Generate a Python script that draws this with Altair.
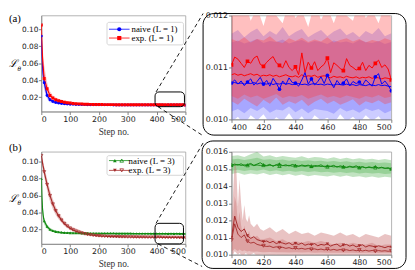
import altair as alt
import pandas as pd

# ---------------- data ----------------
LSTEPS = [0, 2, 4, 6, 8] + list(range(10, 501, 10))
LA_NAIVE = [0.092, 0.070, 0.057, 0.048, 0.042,
            0.037, 0.022, 0.017, 0.0148, 0.0138, 0.0130, 0.0125, 0.0121, 0.0118, 0.0116,
            0.0115, 0.0114, 0.0113, 0.0112, 0.0112, 0.0111, 0.0111, 0.0110, 0.0110, 0.0110,
            0.0109, 0.0109, 0.0109, 0.0109, 0.0108, 0.0108, 0.0108, 0.0108, 0.0108, 0.0108,
            0.0107, 0.0108, 0.0107, 0.0107, 0.0107, 0.0107, 0.0107, 0.0107, 0.0107, 0.0107,
            0.01072, 0.01068, 0.01058, 0.0107, 0.01078, 0.01085, 0.0107, 0.01072, 0.01082, 0.01055]
LA_EXP = [0.105, 0.082, 0.067, 0.057, 0.049,
          0.042, 0.030, 0.022, 0.019, 0.017, 0.0158, 0.0148, 0.0141, 0.0135, 0.0130,
          0.0126, 0.0123, 0.0121, 0.0119, 0.0117, 0.0116, 0.0115, 0.0114, 0.0114, 0.0113,
          0.0113, 0.0112, 0.0112, 0.0112, 0.0112, 0.0111, 0.0111, 0.0111, 0.0111, 0.0111,
          0.0111, 0.0111, 0.0111, 0.0110, 0.0111, 0.0110, 0.0111, 0.0110, 0.0111, 0.01105,
          0.01112, 0.01102, 0.01104, 0.01101, 0.01099, 0.01118, 0.01094, 0.01098, 0.01108, 0.01076]
LB_NAIVE = [0.080, 0.058, 0.045, 0.038, 0.033,
            0.030, 0.0235, 0.0200, 0.0185, 0.0175, 0.0170, 0.0166, 0.0163, 0.0161, 0.0160,
            0.0159, 0.0158, 0.0158, 0.0157, 0.0157, 0.0157, 0.0156, 0.0156, 0.0156, 0.0156,
            0.0155, 0.0155, 0.0155, 0.0155, 0.0155, 0.0154, 0.0154, 0.0154, 0.0154, 0.0154,
            0.0154, 0.0153, 0.0153, 0.0153, 0.0153, 0.0153, 0.0153, 0.0152, 0.0152, 0.0152,
            0.01525, 0.01521, 0.01519, 0.01515, 0.01519, 0.01513, 0.01518, 0.01514, 0.01505, 0.0150]
LB_EXP = [0.107, 0.103, 0.099, 0.095, 0.092,
          0.088, 0.073, 0.060, 0.050, 0.042, 0.036, 0.031, 0.027, 0.024, 0.0215,
          0.0195, 0.0180, 0.0168, 0.0158, 0.0150, 0.0143, 0.0137, 0.0132, 0.0128, 0.0125,
          0.0122, 0.0120, 0.0118, 0.0117, 0.0116, 0.0115, 0.0114, 0.0113, 0.0113, 0.0112,
          0.0112, 0.0111, 0.0111, 0.0110, 0.0110, 0.0110, 0.0109, 0.0109, 0.0109, 0.0110,
          0.0110, 0.01075, 0.01072, 0.01066, 0.01058, 0.01063, 0.01056, 0.01052, 0.01044, 0.01044]

BSTEPS_L = [0, 2, 4, 6, 8, 10, 15, 20, 25, 30, 40, 50, 60, 80, 100, 150, 200, 300, 400, 500]
LA_RED_HI = [0.108, 0.095, 0.082, 0.072, 0.064, 0.058, 0.047, 0.038, 0.031, 0.027, 0.022, 0.0195, 0.018, 0.016, 0.0148, 0.013, 0.0125, 0.0120, 0.0121, 0.0121]
LA_RED_LO = [0.102, 0.072, 0.055, 0.045, 0.038, 0.032, 0.025, 0.021, 0.0185, 0.0165, 0.0148, 0.0138, 0.0130, 0.0120, 0.0115, 0.0108, 0.0106, 0.0104, 0.0103, 0.0103]
LA_BLUE_HI = [0.100, 0.082, 0.067, 0.057, 0.050, 0.045, 0.034, 0.027, 0.022, 0.019, 0.0165, 0.0153, 0.0145, 0.0135, 0.0130, 0.0122, 0.0120, 0.0118, 0.0116, 0.0116]
LA_BLUE_LO = [0.085, 0.060, 0.046, 0.038, 0.033, 0.029, 0.022, 0.018, 0.0155, 0.014, 0.0128, 0.012, 0.0115, 0.011, 0.0106, 0.0102, 0.0100, 0.0099, 0.0099, 0.0099]
LB_GREEN_HI = [0.085, 0.065, 0.051, 0.043, 0.037, 0.034, 0.029, 0.026, 0.024, 0.022, 0.020, 0.019, 0.018, 0.0172, 0.0168, 0.0162, 0.0160, 0.0158, 0.0157, 0.0155]
LB_GREEN_LO = [0.075, 0.051, 0.040, 0.034, 0.029, 0.026, 0.023, 0.021, 0.0195, 0.018, 0.017, 0.016, 0.0158, 0.0155, 0.0153, 0.0150, 0.0149, 0.0148, 0.0147, 0.0146]
LB_BROWN_HI = [0.110, 0.107, 0.104, 0.101, 0.097, 0.094, 0.087, 0.080, 0.073, 0.067, 0.056, 0.047, 0.040, 0.030, 0.024, 0.017, 0.0135, 0.0118, 0.0115, 0.0111]
LB_BROWN_LO = [0.104, 0.099, 0.095, 0.091, 0.086, 0.082, 0.074, 0.066, 0.059, 0.053, 0.044, 0.037, 0.032, 0.024, 0.019, 0.013, 0.0115, 0.0105, 0.0101, 0.0100]

RSTEPS = list(range(400, 501, 2))
RA_EXP = [0.01105, 0.01120, 0.01116, 0.01108, 0.01100, 0.01112, 0.01108, 0.01118, 0.01122, 0.01106,
          0.01102, 0.01110, 0.01116, 0.01121, 0.01109, 0.01104, 0.01099, 0.01113, 0.01100, 0.01094,
          0.01101, 0.01086, 0.01128, 0.01090, 0.01110, 0.01099, 0.01111, 0.01094, 0.01101, 0.01106,
          0.01118, 0.01090, 0.01109, 0.01104, 0.01098, 0.01094, 0.01117, 0.01104, 0.01100, 0.01095,
          0.01098, 0.01110, 0.01094, 0.01104, 0.01099, 0.01108, 0.01114, 0.01100, 0.01105, 0.01097, 0.01076]
RA_EXP2 = [0.01086, 0.01088, 0.01085, 0.01087, 0.01084, 0.01086, 0.01088, 0.01085, 0.01087, 0.01083,
           0.01085, 0.01084, 0.01086, 0.01083, 0.01085, 0.01082, 0.01084, 0.01086, 0.01083, 0.01082,
           0.01084, 0.01081, 0.01086, 0.01082, 0.01084, 0.01083, 0.01085, 0.01081, 0.01083, 0.01084,
           0.01082, 0.01080, 0.01083, 0.01081, 0.01082, 0.01080, 0.01083, 0.01081, 0.01080, 0.01082,
           0.01079, 0.01081, 0.01080, 0.01082, 0.01079, 0.01081, 0.01080, 0.01078, 0.01080, 0.01079, 0.01077]
RA_NAIVE = [0.01070, 0.01076, 0.01068, 0.01074, 0.01065, 0.01072, 0.01078, 0.01066, 0.01073, 0.01081,
            0.01068, 0.01075, 0.01064, 0.01079, 0.01070, 0.01058, 0.01074, 0.01067, 0.01080, 0.01071,
            0.01070, 0.01064, 0.01076, 0.01090, 0.01068, 0.01078, 0.01066, 0.01073, 0.01082, 0.01069,
            0.01085, 0.01072, 0.01061, 0.01075, 0.01067, 0.01070, 0.01078, 0.01065, 0.01073, 0.01069,
            0.01072, 0.01066, 0.01076, 0.01070, 0.01064, 0.01082, 0.01088, 0.01068, 0.01074, 0.01066, 0.01055]
RA_NAIVE2 = [0.01070, 0.01071, 0.01069, 0.01070, 0.01068, 0.01070, 0.01069, 0.01071, 0.01068, 0.01070,
             0.01069, 0.01068, 0.01070, 0.01067, 0.01069, 0.01068, 0.01070, 0.01068, 0.01069, 0.01067,
             0.01068, 0.01069, 0.01067, 0.01068, 0.01066, 0.01068, 0.01069, 0.01067, 0.01068, 0.01066,
             0.01068, 0.01067, 0.01066, 0.01068, 0.01067, 0.01066, 0.01068, 0.01066, 0.01067, 0.01065,
             0.01067, 0.01066, 0.01065, 0.01067, 0.01066, 0.01065, 0.01067, 0.01065, 0.01066, 0.01064, 0.01063]
RB_NAIVE = [0.01520, 0.01528, 0.01522, 0.01530, 0.01518, 0.01525, 0.01532, 0.01521, 0.01528, 0.01536,
            0.01524, 0.01520, 0.01527, 0.01515, 0.01525, 0.01530, 0.01519, 0.01524, 0.01517, 0.01526,
            0.01521, 0.01515, 0.01523, 0.01518, 0.01522, 0.01514, 0.01520, 0.01517, 0.01524, 0.01512,
            0.01519, 0.01515, 0.01521, 0.01510, 0.01518, 0.01513, 0.01508, 0.01516, 0.01511, 0.01518,
            0.01509, 0.01514, 0.01506, 0.01512, 0.01508, 0.01515, 0.01505, 0.01510, 0.01503, 0.01507, 0.01500]
RB_NAIVE2 = [0.01525, 0.01522, 0.01526, 0.01520, 0.01524, 0.01521, 0.01525, 0.01519, 0.01523, 0.01520,
             0.01522, 0.01518, 0.01521, 0.01519, 0.01522, 0.01517, 0.01520, 0.01518, 0.01521, 0.01516,
             0.01519, 0.01517, 0.01518, 0.01515, 0.01518, 0.01516, 0.01514, 0.01517, 0.01514, 0.01516,
             0.01513, 0.01515, 0.01512, 0.01514, 0.01511, 0.01513, 0.01510, 0.01512, 0.01509, 0.01511,
             0.01508, 0.01510, 0.01507, 0.01509, 0.01506, 0.01508, 0.01505, 0.01507, 0.01504, 0.01503, 0.01502]
RB_EXP = [0.01100, 0.01225, 0.01160, 0.01135, 0.01150, 0.01110, 0.01095, 0.01105, 0.01088, 0.01082,
          0.01075, 0.01080, 0.01070, 0.01078, 0.01065, 0.01072, 0.01068, 0.01062, 0.01070, 0.01058,
          0.01066, 0.01060, 0.01068, 0.01055, 0.01062, 0.01058, 0.01065, 0.01052, 0.01060, 0.01056,
          0.01063, 0.01050, 0.01058, 0.01062, 0.01048, 0.01056, 0.01060, 0.01050, 0.01057, 0.01046,
          0.01052, 0.01058, 0.01045, 0.01053, 0.01050, 0.01044, 0.01052, 0.01047, 0.01041, 0.01048, 0.01044]
RB_EXP2 = [0.01085, 0.01180, 0.01120, 0.01100, 0.01115, 0.01078, 0.01068, 0.01072, 0.01060, 0.01055,
           0.01052, 0.01048, 0.01050, 0.01042, 0.01046, 0.01040, 0.01043, 0.01037, 0.01041, 0.01035,
           0.01039, 0.01034, 0.01037, 0.01032, 0.01036, 0.01031, 0.01034, 0.01029, 0.01033, 0.01028,
           0.01032, 0.01027, 0.01031, 0.01026, 0.01030, 0.01025, 0.01029, 0.01024, 0.01028, 0.01023,
           0.01027, 0.01022, 0.01026, 0.01021, 0.01025, 0.01020, 0.01024, 0.01021, 0.01023, 0.01020, 0.01022]

BSTEPS_R = list(range(400, 501, 4))
RA_RED_HI1 = [0.01225, 0.01205, 0.01230, 0.01190, 0.01215, 0.01180, 0.01222, 0.01200, 0.01185, 0.01228, 0.01195, 0.01210, 0.01178, 0.01225, 0.01192, 0.01215, 0.01185, 0.01220, 0.01200, 0.01190, 0.01230, 0.01195, 0.01210, 0.01185, 0.01222, 0.01195]
RA_RED_LO1 = [0.01035, 0.01028, 0.01040, 0.01032, 0.01025, 0.01038, 0.01030, 0.01042, 0.01028, 0.01035, 0.01030, 0.01038, 0.01026, 0.01034, 0.01040, 0.01030, 0.01036, 0.01028, 0.01033, 0.01039, 0.01027, 0.01035, 0.01031, 0.01037, 0.01029, 0.01033]
RA_RED_HI2 = [0.01155, 0.01150, 0.01158, 0.01148, 0.01155, 0.01152, 0.01160, 0.01150, 0.01147, 0.01156, 0.01151, 0.01157, 0.01149, 0.01154, 0.01150, 0.01158, 0.01148, 0.01153, 0.01156, 0.01150, 0.01155, 0.01148, 0.01153, 0.01150, 0.01156, 0.01152]
RA_RED_LO2 = [0.01045, 0.01040, 0.01048, 0.01042, 0.01046, 0.01040, 0.01044, 0.01049, 0.01041, 0.01045, 0.01043, 0.01047, 0.01040, 0.01044, 0.01048, 0.01042, 0.01045, 0.01041, 0.01046, 0.01043, 0.01040, 0.01045, 0.01042, 0.01047, 0.01041, 0.01044]
RA_BLUE_HI1 = [0.01165, 0.01172, 0.01158, 0.01168, 0.01175, 0.01160, 0.01170, 0.01163, 0.01178, 0.01160, 0.01168, 0.01174, 0.01158, 0.01166, 0.01172, 0.01160, 0.01169, 0.01175, 0.01162, 0.01168, 0.01158, 0.01170, 0.01164, 0.01176, 0.01160, 0.01166]
RA_BLUE_LO1 = [0.00995, 0.01005, 0.00990, 0.01008, 0.00998, 0.01010, 0.00992, 0.01004, 0.00996, 0.01012, 0.00994, 0.01006, 0.00990, 0.01008, 0.00998, 0.01003, 0.00992, 0.01010, 0.00996, 0.01005, 0.00993, 0.01008, 0.00997, 0.01006, 0.00991, 0.01002]
RA_BLUE_HI2 = [0.01148, 0.01152, 0.01146, 0.01150, 0.01155, 0.01147, 0.01151, 0.01149, 0.01154, 0.01146, 0.01150, 0.01153, 0.01147, 0.01151, 0.01149, 0.01145, 0.01152, 0.01148, 0.01150, 0.01146, 0.01153, 0.01149, 0.01147, 0.01151, 0.01145, 0.01149]
RA_BLUE_LO2 = [0.01015, 0.01020, 0.01012, 0.01022, 0.01016, 0.01024, 0.01013, 0.01019, 0.01017, 0.01025, 0.01014, 0.01021, 0.01012, 0.01020, 0.01018, 0.01016, 0.01011, 0.01022, 0.01015, 0.01019, 0.01013, 0.01021, 0.01016, 0.01020, 0.01012, 0.01017]
RB_GREEN_HI1 = [0.01575, 0.01580, 0.01570, 0.01585, 0.01600, 0.01572, 0.01580, 0.01568, 0.01576, 0.01570, 0.01565, 0.01574, 0.01562, 0.01570, 0.01566, 0.01560, 0.01568, 0.01558, 0.01565, 0.01556, 0.01562, 0.01555, 0.01560, 0.01552, 0.01558, 0.01550]
RB_GREEN_LO1 = [0.01470, 0.01478, 0.01466, 0.01474, 0.01468, 0.01476, 0.01465, 0.01472, 0.01463, 0.01470, 0.01460, 0.01468, 0.01458, 0.01465, 0.01460, 0.01456, 0.01463, 0.01455, 0.01461, 0.01453, 0.01458, 0.01450, 0.01456, 0.01448, 0.01454, 0.01450]
RB_GREEN_HI2 = [0.01555, 0.01560, 0.01552, 0.01558, 0.01565, 0.01553, 0.01557, 0.01550, 0.01555, 0.01548, 0.01552, 0.01546, 0.01550, 0.01544, 0.01548, 0.01542, 0.01546, 0.01540, 0.01544, 0.01538, 0.01542, 0.01536, 0.01540, 0.01535, 0.01538, 0.01533]
RB_GREEN_LO2 = [0.01490, 0.01495, 0.01488, 0.01494, 0.01490, 0.01496, 0.01486, 0.01492, 0.01485, 0.01490, 0.01483, 0.01488, 0.01482, 0.01486, 0.01480, 0.01484, 0.01478, 0.01482, 0.01476, 0.01480, 0.01474, 0.01478, 0.01473, 0.01476, 0.01471, 0.01474]

BSTEPS_RB = [400, 401, 402, 403, 404, 405, 406, 407, 408, 409, 410, 411, 412, 414, 416, 418, 420,
             424, 428, 432, 436, 440, 444, 448, 452, 456, 460, 464, 468, 472, 476, 480, 484, 488, 492, 496, 500]
RB_BROWN_HI1 = [0.0118, 0.0136, 0.0155, 0.0150, 0.0128, 0.0144, 0.0130, 0.0120, 0.0129, 0.0121, 0.0119, 0.0123, 0.0118, 0.0116, 0.0118, 0.0115, 0.0114,
                0.0116, 0.0113, 0.0115, 0.0112, 0.0114, 0.0112, 0.0113, 0.0111, 0.0113, 0.0112, 0.0111, 0.0113, 0.0111, 0.0112, 0.0110, 0.0112, 0.0111, 0.0110, 0.0112, 0.0111]
RB_BROWN_LO1 = [0.0101, 0.0100, 0.0102, 0.0101, 0.0100, 0.0101, 0.0100, 0.0099, 0.0100, 0.0101, 0.0100, 0.0099, 0.0100, 0.0101, 0.0099, 0.0100, 0.0100,
                0.0099, 0.0100, 0.0099, 0.0100, 0.0099, 0.0100, 0.0099, 0.0100, 0.0099, 0.0099, 0.0100, 0.0099, 0.0100, 0.0099, 0.0099, 0.0100, 0.0099, 0.0099, 0.0100, 0.0099]
RB_BROWN_HI2 = [0.0112, 0.0122, 0.0134, 0.0130, 0.0118, 0.0125, 0.0117, 0.0112, 0.0117, 0.0112, 0.0111, 0.0114, 0.0110, 0.0110, 0.0111, 0.0109, 0.0109,
                0.0110, 0.0108, 0.0109, 0.0107, 0.0108, 0.0107, 0.0108, 0.0107, 0.0108, 0.0107, 0.0106, 0.0107, 0.0106, 0.0107, 0.0106, 0.0106, 0.0107, 0.0105, 0.0106, 0.0106]
RB_BROWN_LO2 = [0.01020, 0.01025, 0.01035, 0.01028, 0.01022, 0.01030, 0.01024, 0.01020, 0.01026, 0.01021, 0.01019, 0.01022, 0.01018, 0.01017, 0.01019, 0.01016, 0.01015,
                0.01016, 0.01014, 0.01015, 0.01013, 0.01014, 0.01013, 0.01014, 0.01012, 0.01013, 0.01012, 0.01011, 0.01012, 0.01011, 0.01012, 0.01010, 0.01011, 0.01012, 0.01010, 0.01011, 0.01010]

LEGEND_A = ["naive (L = 1)", "exp. (L = 1)"]
LEGEND_B = ["naive (L = 3)", "exp. (L = 3)"]

# ---------------- styling ----------------
BLUE, RED, GREEN, BROWN = "#0000ff", "#ff0000", "#138a13", "#a52a2a"
BLUE_F, RED_F, GREEN_F, BROWN_F = "#4848ff", "#ff3c3c", "#4cae4c", "#cf7a7a"
SERIF = "Liberation Serif"
SANS = "DejaVu Sans"
ONE = pd.DataFrame({"k": [0]})


def ldf(steps, vals):
    return pd.DataFrame({"step": steps, "v": vals})


def bdf(steps, lo, hi):
    return pd.DataFrame({"step": steps, "lo": lo, "hi": hi})


def panel(xs, ys, xaxis, yaxis, bands, lines, points, deco, w, h):
    def X():
        return alt.X("step:Q", scale=xs, axis=xaxis)
    layers = []
    for df, color, op in bands:
        layers.append(alt.Chart(df).mark_area(color=color, opacity=op, clip=True).encode(
            x=X(), y=alt.Y("lo:Q", scale=ys, axis=yaxis), y2="hi:Q"))
    for df, color, sw, dash in lines:
        kw = dict(color=color, strokeWidth=sw, clip=True)
        if dash:
            kw["strokeDash"] = dash
        layers.append(alt.Chart(df).mark_line(**kw).encode(
            x=X(), y=alt.Y("v:Q", scale=ys, axis=yaxis)))
    for df, color, shape, filled, size in points:
        layers.append(alt.Chart(df).mark_point(
            color=color, shape=shape, filled=filled, size=size, opacity=1,
            strokeWidth=0.8, clip=True).transform_filter("datum.step % 10 == 0").encode(
            x=X(), y=alt.Y("v:Q", scale=ys, axis=yaxis)))
    layers.extend(deco)
    return alt.layer(*layers).properties(width=w, height=h)


def rule(x1, y1, x2, y2, color="black", dash=None, sw=0.9):
    kw = dict(color=color, strokeWidth=sw)
    if dash:
        kw["strokeDash"] = dash
    return alt.Chart(ONE).mark_rule(**kw).encode(
        x=alt.value(x1), y=alt.value(y1), x2=alt.value(x2), y2=alt.value(y2))


def box(x1, y1, x2, y2, stroke="black", r=4, sw=1.0, fill="white", fo=0.0):
    return alt.Chart(ONE).mark_rect(stroke=stroke, strokeWidth=sw, fill=fill, fillOpacity=fo,
                                    cornerRadius=r).encode(
        x=alt.value(x1), y=alt.value(y1), x2=alt.value(x2), y2=alt.value(y2))


def txt(s, x, y, size=9, font=SERIF, align="left", baseline="middle", style="normal"):
    return alt.Chart(ONE).mark_text(text=s, font=font, fontSize=size, align=align,
                                    baseline=baseline, fontStyle=style, color="black").encode(
        x=alt.value(x), y=alt.value(y))


def pt(x, y, color, shape, filled=True, size=18):
    return alt.Chart(ONE).mark_point(color=color, shape=shape, filled=filled, size=size,
                                     opacity=1, strokeWidth=0.8).encode(x=alt.value(x), y=alt.value(y))


# ---------------- scales / axes ----------------
XS_L = alt.Scale(domain=[0, 500], nice=False, zero=False)
XS_R = alt.Scale(domain=[400, 500], nice=False, zero=False)
YS_LA = alt.Scale(domain=[0.003, 0.1163], nice=False, zero=False)
YS_LB = alt.Scale(domain=[0.003, 0.1117], nice=False, zero=False)
YS_RA = alt.Scale(domain=[0.010, 0.012], nice=False, zero=False)
YS_RB = alt.Scale(domain=[0.010, 0.016], nice=False, zero=False)

AX_XL = alt.Axis(values=[0, 100, 200, 300, 400, 500], format="d", title="Step no.")
AX_XR = alt.Axis(values=[400, 420, 440, 460, 480, 500], format="d", title=None)
AX_YL = alt.Axis(values=[0.02, 0.04, 0.06, 0.08, 0.10], format=".2f", title=None,
                 labelFontSize=7.5, labelPadding=0.5)
AX_YRA = alt.Axis(values=[0.010, 0.011, 0.012], format=".3f", title=None)
AX_YRB = alt.Axis(values=[0.010, 0.011, 0.012, 0.013, 0.014, 0.015, 0.016], format=".3f", title=None)

# ---------------- panels ----------------
la_lines_naive = ldf(LSTEPS, LA_NAIVE)
la_lines_exp = ldf(LSTEPS, LA_EXP)
left_a = panel(
    XS_L, YS_LA, AX_XL, AX_YL,
    bands=[(bdf(BSTEPS_L, LA_BLUE_LO, LA_BLUE_HI), BLUE_F, 0.3),
           (bdf(BSTEPS_L, LA_RED_LO, LA_RED_HI), RED_F, 0.3)],
    lines=[(la_lines_naive, BLUE, 1.2, None), (la_lines_exp, RED, 1.2, None)],
    points=[(la_lines_naive, BLUE, "circle", True, 9), (la_lines_exp, RED, "square", True, 9)],
    deco=[
        box(67, 7, 145, 30, stroke="#cccccc", r=2, sw=0.8, fo=0.85),
        rule(69, 14, 90, 14, color=BLUE, sw=0.8), pt(79.5, 14, BLUE, "circle"),
        txt(LEGEND_A[0], 92, 14),
        rule(69, 23, 90, 23, color=RED, sw=0.8), pt(79.5, 23, RED, "square"),
        txt(LEGEND_A[1], 92, 23),
        box(116, 78, 146, 93, r=4),
        rule(117, 78, 165, -2, dash=[4, 3]),
        rule(119, 93, 164, 122, dash=[4, 3]),
        txt("(a)", -33, -2, size=11, baseline="top"),
        txt("ℒ", -33, 50, size=10.5, font="DejaVu Serif", style="italic"),
        txt("θ", -24.3, 54.5, size=6, font="DejaVu Serif", style="italic"),
    ],
    w=147, h=98)

lb_naive = ldf(LSTEPS, LB_NAIVE)
lb_exp = ldf(LSTEPS, LB_EXP)
left_b = panel(
    XS_L, YS_LB, AX_XL, AX_YL,
    bands=[(bdf(BSTEPS_L, LB_GREEN_LO, LB_GREEN_HI), GREEN_F, 0.4),
           (bdf(BSTEPS_L, LB_BROWN_LO, LB_BROWN_HI), BROWN_F, 0.45)],
    lines=[(lb_naive, GREEN, 1.2, None), (lb_exp, BROWN, 1.2, None)],
    points=[(lb_naive, GREEN, "triangle-up", True, 9), (lb_exp, BROWN, "triangle-down", False, 9)],
    deco=[
        box(67, 4, 145, 24, stroke="#cccccc", r=2, sw=0.8, fo=0.85),
        rule(69, 9, 90, 9, color=GREEN, sw=0.8), pt(75, 9, GREEN, "triangle-up", size=14),
        pt(82, 9, GREEN, "triangle-up", filled=False, size=14),
        txt(LEGEND_B[0], 89, 9),
        rule(69, 19, 90, 19, color=BROWN, sw=0.8), pt(75, 19, BROWN, "triangle-down", size=14),
        pt(82, 19, BROWN, "triangle-down", filled=False, size=14),
        txt(LEGEND_B[1], 89, 19),
        box(116, 73, 145, 94, r=4),
        rule(117, 73, 165, -9, dash=[4, 3]),
        rule(119, 94, 164, 117, dash=[4, 3]),
        txt("(b)", -33, -10, size=11, baseline="top"),
        txt("ℒ", -33, 48, size=10.5, font="DejaVu Serif", style="italic"),
        txt("θ", -24.3, 52.5, size=6, font="DejaVu Serif", style="italic"),
    ],
    w=147, h=94)

ra_exp = ldf(RSTEPS, RA_EXP)
ra_naive = ldf(RSTEPS, RA_NAIVE)
right_a = panel(
    XS_R, YS_RA, AX_XR, AX_YRA,
    bands=[(bdf(BSTEPS_R, RA_BLUE_LO1, RA_BLUE_HI1), BLUE_F, 0.28),
           (bdf(BSTEPS_R, RA_BLUE_LO2, RA_BLUE_HI2), BLUE_F, 0.28),
           (bdf(BSTEPS_R, RA_RED_LO1, RA_RED_HI1), RED_F, 0.33),
           (bdf(BSTEPS_R, RA_RED_LO2, RA_RED_HI2), RED_F, 0.33)],
    lines=[(ldf(RSTEPS, RA_EXP2), RED, 1.0, None), (ra_exp, RED, 1.0, None),
           (ldf(RSTEPS, RA_NAIVE2), BLUE, 1.0, None), (ra_naive, BLUE, 1.0, None)],
    points=[(ra_exp, RED, "square", True, 14), (ra_naive, BLUE, "circle", True, 14)],
    deco=[box(-29, -2, 178, 122, r=11, sw=1.0)],
    w=163, h=106)

rb_naive = ldf(RSTEPS, RB_NAIVE)
rb_naive2 = ldf(RSTEPS, RB_NAIVE2)
rb_exp = ldf(RSTEPS, RB_EXP)
rb_exp2 = ldf(RSTEPS, RB_EXP2)
right_b = panel(
    XS_R, YS_RB, AX_XR, AX_YRB,
    bands=[(bdf(BSTEPS_R, RB_GREEN_LO1, RB_GREEN_HI1), GREEN_F, 0.35),
           (bdf(BSTEPS_R, RB_GREEN_LO2, RB_GREEN_HI2), GREEN_F, 0.35),
           (bdf(BSTEPS_RB, RB_BROWN_LO1, RB_BROWN_HI1), BROWN_F, 0.45),
           (bdf(BSTEPS_RB, RB_BROWN_LO2, RB_BROWN_HI2), BROWN_F, 0.45)],
    lines=[(rb_naive2, GREEN, 0.9, None), (rb_naive, GREEN, 1.0, None),
           (rb_exp2, BROWN, 0.9, None), (rb_exp, BROWN, 1.0, None)],
    points=[(rb_naive, GREEN, "triangle-up", True, 12), (rb_naive2, GREEN, "triangle-up", False, 12),
            (rb_exp, BROWN, "triangle-down", True, 12), (rb_exp2, BROWN, "triangle-down", False, 12)],
    deco=[box(-30, -11, 178, 119, r=11, sw=1.0)],
    w=163, h=105)

chart = alt.concat(
    left_a, right_a, left_b, right_b, columns=2,
    spacing={"row": 33, "column": 47}, bounds="flush"
).properties(
    padding=0
).configure_view(
    stroke="#a0a0a0", strokeWidth=0.8
).configure_axis(
    grid=False, domainColor="#808080", domainWidth=0.8, tickColor="#606060", tickSize=3,
    tickWidth=0.8, labelFont=SANS, labelFontSize=8, labelColor="#222222", labelPadding=1,
    titleFont=SERIF, titleFontSize=9.5, titleFontWeight="normal", titleColor="#333333",
    titlePadding=3
)

chart.save("out.html", embed_options={"renderer": "svg", "actions": False})
